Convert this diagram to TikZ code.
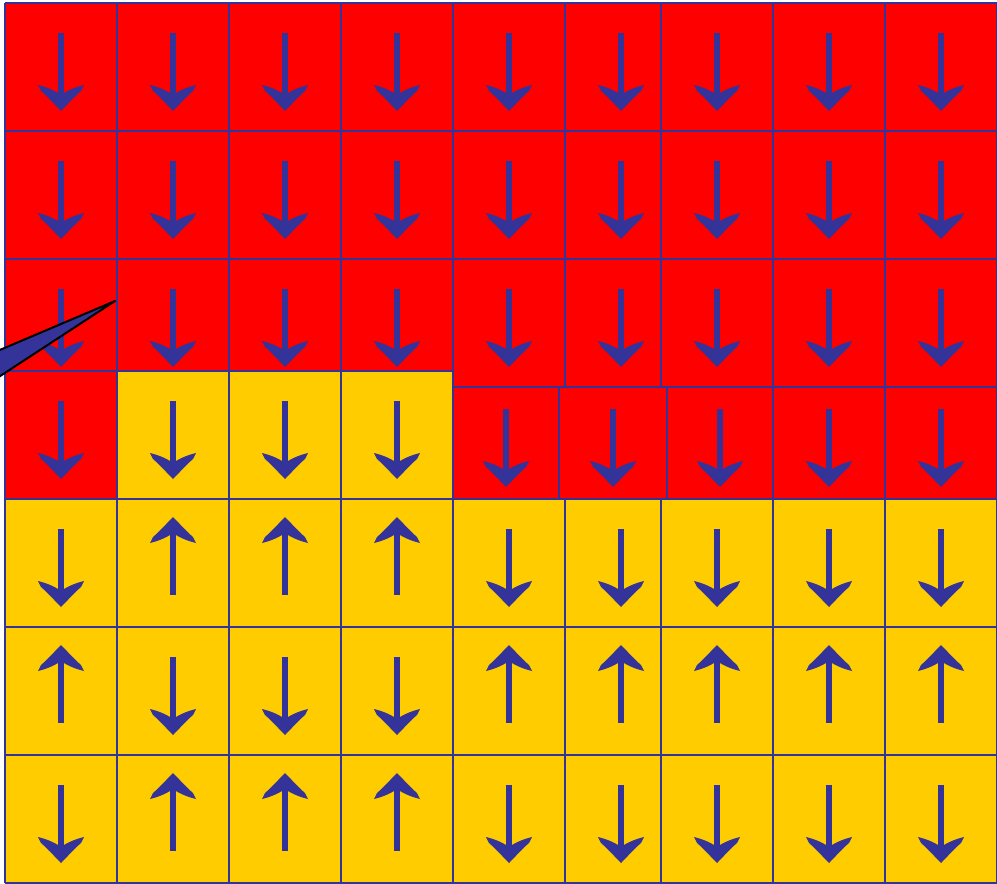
\documentclass[tikz,border=0pt]{standalone}
\usetikzlibrary{calc}
\definecolor{spinblue}{HTML}{333399}
\definecolor{wred}{HTML}{FF0000}
\definecolor{wyellow}{HTML}{FFCC00}
\tikzset{
  gridln/.style={spinblue,line width=2pt},
  spin/.pic={
    \fill[spinblue] (0,0) .. controls (-6,-6) and (-13,-14) .. (-20,-20)
      -- (-23,-26) .. controls (-15,-24) and (-7,-21) .. (0,-16)
      .. controls (7,-21) and (15,-24) .. (23,-26) -- (20,-20)
      .. controls (13,-14) and (6,-6) .. (0,0) -- cycle;
    \draw[spinblue,line width=6pt] (0,-12) -- (0,-78);
  }
}

\begin{document}
\begin{tikzpicture}[x=1pt,y=-1pt,line join=round]
  \useasboundingbox (0,0) rectangle (997,884);
  \clip (0,0) rectangle (997,884);
  % domains
  \fill[wred] (5,3) rectangle (997,499);
  \fill[wyellow] (5,499) rectangle (997,883);
  \fill[wyellow] (117,371) rectangle (453,499);
  % cell borders
  \foreach \y in {3,131,259,499,627,755,883}{\draw[gridln] (5,\y) -- (997,\y);}
  \draw[gridln] (5,371) -- (453,371) (453,387) -- (997,387);
  \foreach \x in {5,117,229,341,453,773,885,997}{\draw[gridln] (\x,3) -- (\x,883);}
  \foreach \x in {565,661}{\draw[gridln] (\x,3) -- (\x,387) (\x,499) -- (\x,883);}
  \foreach \x in {559,667}{\draw[gridln] (\x,387) -- (\x,499);}
  % red rows, all down
  \foreach \t in {3,131,259}{
    \foreach \x in {61,173,285,397,509,621,717,829,941}{\pic at (\x,\t+108) {spin};}}
  \foreach \x in {61,173,285,397}{\pic at (\x,479) {spin};}
  \foreach \x in {506,613,720,829,941}{\pic at (\x,487) {spin};}
  % yellow rows
  \foreach \x in {61,509,621,717,829,941}{
    \pic at (\x,607) {spin};
    \pic[rotate=180] at (\x,645) {spin};
    \pic at (\x,863) {spin};}
  \foreach \x in {173,285,397}{
    \pic[rotate=180] at (\x,517) {spin};
    \pic at (\x,735) {spin};
    \pic[rotate=180] at (\x,773) {spin};}
  % pointer
  \coordinate (tip) at (115,301);
  \filldraw[fill=spinblue,draw=black,line width=2pt] (tip) -- (-12,355) -- (-12,384) -- cycle;
\end{tikzpicture}
\end{document}
